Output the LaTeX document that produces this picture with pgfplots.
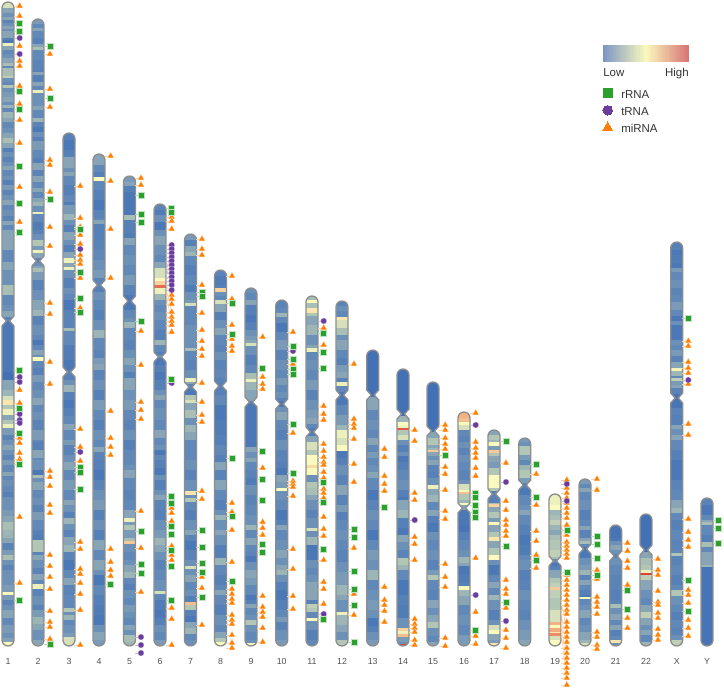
\documentclass[border=0pt]{standalone}
\usepackage{fontspec}
\setmainfont{Liberation Sans}
\usepackage{pgfplots}
\pgfplotsset{compat=1.18}
\definecolor{outl}{RGB}{140,140,140}
\definecolor{lab}{RGB}{80,80,80}
\definecolor{cg}{RGB}{44,160,44}
\definecolor{cp}{RGB}{106,61,154}
\definecolor{co}{RGB}{255,127,0}
\pgfplotsset{
 colormap={ideo}{rgb255(0pt)=(66,113,181); rgb255(2pt)=(85,128,184); rgb255(4pt)=(108,145,184); rgb255(6pt)=(135,165,182); rgb255(8pt)=(178,198,182); rgb255(10pt)=(250,250,190); rgb255(15pt)=(240,150,110); rgb255(20pt)=(214,47,39)},
 colormap={leg}{rgb255=(122,148,195) rgb255=(250,250,190) rgb255=(215,115,115)},
 maskst/.style={draw=none,fill=white},
 outst/.style={draw=outl,line width=1pt,no marks,line join=round},
 bandst/.style={mesh,shader=flat corner,line width=9pt,no marks,line cap=butt},
}
\newcommand\bands[2]{\addplot[bandst] table[x expr=#1,y index=0,meta index=1,row sep=\\,point meta=explicit]{#2};}
% x, top, centromere, bottom, half width of the neck
\newcommand\chrom[5]{%
 \foreach \s in {1,-1}{%
 \pgfmathsetmacro\xa{#1+\s*2.3}\pgfmathsetmacro\xb{#1+\s*4.24}\pgfmathsetmacro\xc{#1+\s*5.54}%
 \pgfmathsetmacro\xd{#1+\s*6}\pgfmathsetmacro\xn{#1+\s*#5}\pgfmathsetmacro\xm{#1+\s*9}%
 \pgfmathsetmacro\ya{#2+.46}\pgfmathsetmacro\yb{#2+1.76}\pgfmathsetmacro\yc{#2+3.7}\pgfmathsetmacro\yd{#2+6}%
 \pgfmathsetmacro\ye{#3-5}\pgfmathsetmacro\yf{#3+5}%
 \pgfmathsetmacro\yg{#4-6}\pgfmathsetmacro\yh{#4-3.7}\pgfmathsetmacro\yi{#4-1.76}\pgfmathsetmacro\yj{#4-.46}%
 \pgfmathsetmacro\yt{#2-2}\pgfmathsetmacro\yu{#4+2}%
 \edef\spath{(#1,#2) (\xa,\ya) (\xb,\yb) (\xc,\yc) (\xd,\yd) (\xd,\ye) (\xn,#3) (\xd,\yf) (\xd,\yg) (\xc,\yh) (\xb,\yi) (\xa,\yj) (#1,#4)}%
 \edef\tmp{\noexpand\addplot[maskst] coordinates {(#1,\yt) \spath\space (#1,\yu) (\xm,\yu) (\xm,\yt)} -- cycle;
 \noexpand\addplot[outst] coordinates {\spath};}%
 \global\let\gtmp\tmp
 \gtmp
 }%
}
\newcommand\tri[2]{\addplot[only marks,mark=triangle*,mark size=2.75pt,mark options={draw=co!30,line width=.2pt,fill=co},
 error bars/.cd,x dir=minus,x fixed=6,error mark=none,error bar style={color=co!35,line width=.45pt}]
 table[x expr=#1,y index=0,row sep=\\]{#2};}
\newcommand\cir[2]{\addplot[only marks,mark=*,mark size=2.25pt,mark options={draw=cp!30,line width=.2pt,fill=cp},
 error bars/.cd,x dir=minus,x fixed=6,error mark=none,error bar style={color=cp!35,line width=.45pt}]
 table[x expr=#1,y index=0,row sep=\\]{#2};}
\newcommand\squ[2]{\addplot[only marks,mark=square*,mark size=2.25pt,mark options={draw=cg!30,line width=.4pt,fill=cg},
 error bars/.cd,x dir=minus,x fixed=6,error mark=none,error bar style={color=cg!35,line width=.45pt}]
 table[x expr=#1,y index=0,row sep=\\]{#2};}
\newcommand\fan[3]{\addplot[color=#1!35,line width=.45pt,no marks] coordinates {#3};}
\newcommand\lab[2]{\node[font=\fontsize{6.6}{8}\selectfont,text=lab,anchor=base] at (axis cs:#1,664) {#2};}
\begin{document}
\begin{tikzpicture}
\useasboundingbox (0,0) rectangle (543pt,517.5pt);
\begin{axis}[at={(0,0)},anchor=south west,scale only axis,width=543pt,height=517.5pt,
 xmin=0,xmax=724,ymin=0,ymax=690,y dir=reverse,hide axis,clip=false,
 colormap name=ideo,point meta min=0,point meta max=1]
% ---------- bands: y, value
\bands{8}{2 .45\\8 .3\\13 .2\\17 .3\\20 .12\\23 .2\\26 .3\\29 .2\\31 .3\\38 .1\\40 .05\\43 .48\\46 .3\\50 .15\\54 .2\\58 .3\\63 .38\\66 .15\\68 .38\\76 .42\\78 .2\\82 .15\\85 .4\\88 .2\\92 .25\\97 .3\\102 .2\\105 .35\\108 .15\\112 .35\\118 .3\\122 .15\\128 .2\\133 .3\\138 .38\\143 .3\\148 .1\\152 .2\\157 .12\\162 .2\\166 .3\\170 .15\\176 .2\\180 .1\\185 .25\\190 .12\\195 .2\\200 .3\\205 .15\\210 .2\\216 .12\\221 .3\\225 .15\\230 .3\\240 .3\\250 .15\\262 .3\\270 .2\\285 .38\\290 .38\\295 .15\\305 .2\\311 .3\\317 .12\\321 .05\\372 0\\380 .3\\390 .35\\396 .45\\400 .55\\405 .4\\409 .48\\415 .3\\420 .4\\424 .48\\428 .25\\435 .12\\440 .2\\445 .3\\450 .2\\455 .12\\460 .25\\465 .15\\472 .3\\476 .15\\480 .2\\486 .15\\492 .1\\497 .2\\505 .2\\510 .25\\516 .3\\522 .38\\530 .35\\538 .3\\543 .12\\550 .25\\555 .38\\560 .2\\565 .12\\570 .2\\578 .2\\585 .25\\592 .5\\595 .25\\600 .12\\605 .2\\610 .3\\618 .15\\625 .25\\633 .2\\638 .28\\642 .5\\646 .5\\}
\bands{38}{19 .25\\24 .15\\28 .3\\31 .15\\38 .1\\44 .3\\47 .38\\50 .15\\60 .12\\70 .1\\72 .3\\75 .1\\82 .3\\86 .15\\90 .48\\93 .2\\100 .2\\106 .3\\110 .15\\118 .35\\122 .12\\127 .05\\132 .2\\137 .1\\141 .25\\150 .15\\158 .1\\163 .3\\170 .12\\176 .3\\182 .15\\188 .3\\192 .15\\198 .3\\202 .35\\206 .2\\212 .48\\214 .15\\222 .08\\230 .12\\234 .2\\240 .4\\246 .25\\250 .48\\253 .3\\258 .12\\263 .2\\266 .3\\268 .38\\272 .25\\280 .12\\290 .2\\300 .3\\310 .35\\316 .12\\325 .2\\335 .15\\340 .05\\345 .15\\350 .3\\355 .2\\357 .5\\361 .15\\368 .1\\375 .25\\382 .15\\390 .2\\398 .3\\405 .15\\412 .2\\420 .12\\430 .25\\440 .15\\442 .1\\450 .3\\458 .15\\460 .2\\470 .05\\475 .38\\478 .2\\482 .3\\490 .15\\498 .2\\505 .12\\512 .25\\520 .15\\530 .1\\535 .08\\540 .4\\545 .4\\552 .12\\555 .3\\560 .2\\568 .12\\574 .3\\580 .15\\584 .48\\589 .12\\596 .2\\605 .12\\610 .25\\617 .35\\624 .3\\630 .2\\640 .3\\646 .25\\}
\bands{69}{133 .1\\140 .05\\150 .1\\157 .3\\162 .3\\168 .2\\172 .3\\176 .15\\185 .1\\195 .15\\202 .08\\205 .25\\214 .35\\220 .2\\225 .1\\232 .3\\240 .2\\245 .1\\252 .3\\258 .48\\263 .3\\267 .48\\270 .2\\278 .1\\288 .2\\294 .15\\300 .05\\310 .12\\318 .12\\328 .38\\331 .15\\345 .08\\360 .05\\370 .12\\374 .1\\380 .2\\385 .35\\392 .1\\400 .05\\408 .1\\416 .15\\424 .3\\430 .15\\440 .25\\445 .12\\455 .2\\462 .3\\470 .15\\480 .25\\490 .15\\500 .3\\505 .2\\512 .1\\518 .35\\524 .2\\530 .12\\537 .3\\545 .35\\552 .12\\560 .05\\570 .15\\578 .3\\585 .12\\595 .15\\608 .4\\612 .2\\615 .35\\620 .15\\625 .2\\633 .25\\637 .45\\646 .45\\}
\bands{99}{154 .3\\160 .3\\165 .15\\172 .1\\177 .5\\181 .15\\190 .1\\200 .05\\210 .12\\218 .15\\220 .3\\224 .1\\232 .1\\240 .12\\250 .15\\260 .2\\270 .25\\278 .12\\287 .1\\292 .2\\300 .15\\310 .1\\320 .2\\330 .35\\338 .15\\350 .12\\358 .25\\364 .3\\370 .12\\380 .2\\390 .1\\400 .25\\410 .15\\420 .1\\430 .2\\440 .15\\447 .3\\452 .12\\460 .1\\470 .05\\480 .12\\490 .2\\500 .25\\510 .1\\520 .2\\530 .1\\540 .3\\550 .15\\560 .3\\570 .2\\575 .05\\585 .15\\595 .1\\605 .08\\615 .05\\625 .2\\632 .3\\640 .25\\646 .2\\}
\bands{129.5}{176 .25\\182 .3\\186 .1\\192 .05\\200 .05\\212 .05\\215 .38\\220 .1\\228 .1\\233 .08\\238 .3\\245 .15\\255 .2\\265 .15\\275 .25\\285 .12\\295 .05\\303 .05\\310 .15\\318 .2\\322 .35\\328 .15\\340 .12\\350 .2\\358 .3\\365 .2\\372 .1\\378 .3\\390 .2\\400 .25\\410 .15\\420 .12\\430 .2\\440 .1\\450 .15\\465 .2\\470 .3\\478 .15\\490 .12\\500 .15\\510 .3\\518 .48\\522 .25\\525 .4\\530 .25\\538 .38\\541 .62\\544 .2\\552 .15\\560 .2\\565 .3\\572 .35\\578 .15\\584 .1\\590 .2\\598 .15\\605 .25\\612 .2\\618 .15\\625 .3\\630 .2\\635 .38\\642 .35\\646 .35\\}
\bands{160}{204 .12\\210 .08\\215 .2\\222 .05\\230 .2\\236 .3\\245 .2\\255 .15\\262 .3\\268 .45\\278 .5\\281 .6\\285 .85\\288 .48\\294 .35\\300 .2\\305 .15\\312 .2\\320 .15\\330 .1\\340 .35\\345 .15\\352 .1\\355 .2\\358 .05\\365 .1\\372 .05\\380 .1\\390 .2\\395 .3\\400 .15\\408 .2\\420 .15\\430 .3\\438 .15\\445 .2\\450 .05\\455 .15\\460 .1\\468 .05\\475 .2\\480 .1\\490 .2\\495 .3\\500 .12\\510 .1\\520 .2\\530 .25\\538 .35\\545 .3\\552 .2\\560 .12\\570 .15\\580 .2\\590 .2\\591 .45\\594 .15\\600 .08\\610 .05\\618 .1\\625 .2\\632 .15\\640 .25\\646 .2\\}
\bands{190.5}{234 .25\\240 .1\\246 .3\\252 .35\\256 .15\\265 .1\\275 .15\\285 .08\\292 .2\\300 .25\\303 .45\\306 .15\\315 .15\\325 .2\\334 .2\\348 .38\\351 .15\\360 .12\\370 .2\\378 .48\\382 .3\\384 .12\\389 .05\\395 .4\\400 .45\\403 .3\\410 .38\\418 .2\\425 .35\\432 .3\\440 .15\\450 .15\\460 .2\\470 .12\\480 .2\\488 .2\\491 .55\\495 .2\\498 .4\\502 .15\\510 .1\\520 .2\\530 .3\\535 .12\\541 .05\\550 .12\\560 .2\\566 .45\\569 .2\\575 .3\\582 .15\\590 .2\\596 .1\\602 .65\\605 .4\\610 .1\\616 .05\\622 .3\\628 .35\\634 .15\\640 .2\\646 .15\\}
\bands{220.5}{270 .12\\276 .08\\285 .1\\288 .6\\292 .2\\296 .15\\300 .45\\304 .3\\312 .1\\320 .2\\328 .3\\335 .15\\345 .12\\352 .2\\360 .12\\370 .15\\378 .12\\383 .1\\388 .1\\395 .15\\405 .05\\420 .08\\435 .1\\445 .15\\455 .1\\462 .3\\470 .12\\480 .3\\490 .15\\500 .1\\510 .2\\515 .35\\520 .2\\530 .3\\535 .2\\545 .1\\558 .35\\565 .15\\575 .1\\585 .15\\590 .3\\595 .15\\605 .1\\615 .2\\625 .15\\632 .3\\638 .4\\642 .5\\646 .5\\}
\bands{251}{288 .2\\293 .15\\300 .3\\305 .1\\315 .05\\322 .1\\330 .2\\336 .25\\340 .3\\343 .45\\346 .2\\355 .1\\365 .15\\373 .38\\379 .48\\382 .35\\390 .3\\398 .3\\401 .1\\404 .05\\415 .05\\440 .05\\447 .3\\452 .2\\458 .3\\462 .15\\470 .12\\478 .08\\485 .2\\495 .12\\505 .15\\515 .2\\525 .35\\530 .15\\538 .3\\545 .15\\552 .12\\556 .05\\562 .2\\570 .3\\578 .25\\585 .15\\595 .05\\600 .1\\604 .3\\608 .15\\615 .2\\620 .4\\625 .2\\632 .15\\640 .2\\643 .5\\646 .5\\}
\bands{281.7}{300 .12\\308 .15\\313 .35\\317 .15\\323 .05\\332 .15\\340 .25\\350 .12\\360 .2\\370 .15\\378 .25\\385 .15\\392 .2\\398 .12\\401 .05\\407 .2\\412 .3\\420 .15\\430 .1\\440 .2\\450 .12\\462 .1\\468 .05\\475 .3\\482 .25\\488 .5\\491 .2\\500 .15\\510 .05\\520 .1\\525 .3\\530 .15\\540 .2\\550 .3\\558 .2\\565 .3\\570 .35\\575 .2\\582 .1\\590 .05\\600 .1\\610 .15\\617 .25\\622 .12\\630 .2\\640 .25\\646 .2\\}
\bands{312}{296 .38\\300 .5\\303 .38\\308 .55\\313 .4\\316 .3\\325 .35\\335 .2\\345 .3\\348 .48\\352 .15\\360 .2\\370 .15\\380 .25\\390 .12\\400 .2\\410 .25\\418 .3\\424 .15\\428 .08\\436 .3\\442 .45\\450 .4\\455 .5\\460 .5\\465 .58\\468 .5\\472 .5\\475 .2\\482 .4\\488 .38\\495 .3\\500 .2\\510 .12\\518 .2\\528 .45\\531 .2\\537 .35\\545 .05\\552 .05\\560 .2\\568 .15\\575 .2\\582 .3\\590 .3\\600 .1\\604 .42\\608 .4\\612 .15\\618 .5\\621 .2\\630 .1\\640 .15\\646 .15\\}
\bands{342}{301 .12\\306 .2\\311 .15\\317 .55\\320 .45\\328 .38\\335 .2\\340 .3\\350 .15\\358 .1\\365 .25\\372 .3\\378 .12\\382 .48\\386 .15\\392 .05\\397 .05\\405 .15\\415 .25\\425 .35\\430 .48\\438 .45\\445 .5\\451 .05\\458 .1\\465 .2\\475 .12\\485 .3\\495 .12\\505 .25\\512 .1\\520 .15\\530 .2\\540 .15\\550 .12\\562 .2\\572 .25\\585 .35\\595 .3\\600 .2\\612 .48\\615 .35\\625 .3\\632 .2\\640 .4\\646 .35\\}
\bands{372.7}{350 0\\393 0\\397 .3\\405 .3\\410 .15\\420 .2\\430 .15\\438 .3\\445 .15\\452 .25\\458 .15\\465 .2\\472 .3\\478 .15\\490 .05\\500 .12\\510 .2\\520 .15\\530 .05\\540 .15\\550 .25\\560 .2\\570 .35\\580 .15\\590 .2\\600 .25\\610 .2\\618 .05\\626 .1\\632 .2\\640 .25\\646 .3\\}
\bands{403}{369 0\\411 0\\416 .35\\422 .5\\426 .48\\428 .9\\430 .4\\435 .45\\440 .2\\445 .1\\452 .2\\456 .05\\462 .1\\470 .15\\480 .2\\490 .1\\497 .05\\500 .3\\510 .35\\518 .1\\528 .05\\535 .3\\542 .2\\550 .12\\558 .4\\565 .35\\570 .15\\580 .05\\595 .1\\605 .08\\618 .2\\628 .6\\631 .48\\634 .65\\637 .25\\642 .2\\644 .95\\646 .95\\}
\bands{433}{382 0\\427 0\\432 .3\\438 .4\\445 .3\\448 .35\\450 .62\\452 .3\\456 .2\\460 .3\\465 .12\\472 .1\\478 .2\\485 .48\\489 .3\\495 .35\\502 .15\\510 .3\\516 .1\\523 .05\\532 .2\\540 .15\\550 .2\\560 .12\\570 .25\\575 .4\\580 .15\\590 .12\\600 .3\\608 .2\\615 .3\\622 .4\\628 .2\\636 .15\\642 .3\\646 .3\\}
\bands{464}{412 .68\\418 .65\\422 .5\\425 .45\\430 .15\\436 .12\\442 .2\\448 .12\\455 .2\\462 .15\\470 .12\\480 .2\\484 .45\\490 .5\\492 .65\\494 .4\\500 .35\\503 .5\\505 .3\\510 .05\\525 .02\\532 .1\\540 .15\\550 .2\\557 .35\\563 .3\\566 .05\\575 .08\\583 .1\\586 .5\\590 .35\\596 .3\\605 .15\\615 .2\\625 .15\\635 .25\\646 .2\\}
\bands{494}{430 .3\\435 .4\\440 .35\\442 .5\\446 .25\\450 .62\\453 .4\\456 .3\\462 .25\\468 .4\\475 .5\\482 .5\\488 .4\\491 .1\\497 .1\\503 .38\\504 .6\\507 .3\\512 .4\\518 .25\\522 .5\\525 .3\\532 .4\\537 .55\\541 .3\\548 .4\\555 .5\\560 .2\\565 .05\\575 .15\\582 .3\\588 .15\\595 .35\\600 .2\\610 .1\\620 .2\\625 .45\\630 .5\\634 .3\\640 .25\\643 .55\\646 .5\\}
\bands{524.7}{438 .25\\442 .2\\446 .4\\450 .4\\455 .25\\460 .15\\465 .35\\470 .4\\478 .25\\483 .1\\488 .05\\495 .15\\505 .2\\510 .3\\515 .15\\525 .1\\535 .05\\545 .08\\555 .15\\560 .2\\570 .1\\580 .12\\590 .2\\600 .15\\610 .12\\620 .2\\630 .25\\640 .3\\646 .25\\}
\bands{555}{494 .48\\505 .5\\510 .35\\515 .38\\520 .42\\525 .35\\530 .3\\535 .38\\540 .4\\545 .4\\550 .42\\557 .38\\559 .15\\563 .05\\566 .1\\570 .3\\578 .4\\583 .42\\587 .62\\590 .42\\598 .4\\610 .45\\620 .45\\622 .68\\625 .5\\628 .7\\632 .55\\633 .78\\636 .45\\640 .5\\646 .52\\}
\bands{585}{479 .25\\484 .15\\488 .3\\492 .15\\500 .2\\510 .1\\520 .15\\526 .3\\530 .12\\538 .3\\541 .38\\544 .15\\547 .05\\552 .05\\558 .2\\565 .25\\570 .35\\575 .12\\580 .3\\585 .15\\590 .1\\595 .05\\597 .5\\599 .15\\605 .2\\610 .3\\618 .15\\625 .2\\632 .3\\640 .35\\643 .45\\646 .5\\}
\bands{615.7}{525 .02\\538 .05\\541 .2\\545 .3\\550 .2\\554 .1\\558 .2\\565 .15\\575 .12\\590 .1\\600 .12\\604 .38\\608 .2\\614 .3\\620 .15\\625 .3\\630 .1\\636 .15\\640 .55\\643 .2\\646 .2\\}
\bands{646}{514 0\\548 0\\552 .3\\558 .38\\565 .4\\570 .48\\573 .95\\575 .42\\580 .3\\590 .2\\598 .15\\605 .3\\612 .42\\618 .3\\625 .2\\630 .3\\635 .15\\642 .35\\646 .3\\}
\bands{676.7}{242 .1\\250 .05\\255 .08\\263 .05\\268 .25\\272 .15\\280 .2\\288 .12\\295 .15\\302 .25\\310 .15\\316 .05\\321 .2\\325 .05\\335 .05\\340 .2\\345 .15\\350 .25\\356 .12\\362 .3\\368 .52\\371 .35\\376 .15\\378 .42\\381 .25\\385 .3\\388 .12\\394 .03\\400 .03\\408 .12\\415 .1\\425 .3\\429 .2\\435 .3\\440 .15\\450 .1\\460 .05\\470 .05\\480 .12\\490 .15\\500 .3\\508 .35\\513 .15\\520 .1\\530 .15\\540 .12\\550 .15\\553 .4\\556 .12\\565 .15\\575 .1\\585 .15\\590 .4\\596 .2\\605 .15\\612 .1\\620 .15\\628 .12\\635 .2\\640 .42\\646 .45\\}
\bands{707}{498 .12\\505 .05\\515 .15\\520 .3\\522 .38\\525 .15\\535 .1\\542 .38\\547 .15\\552 .3\\560 .3\\565 .35\\567 .02\\646 .02\\}
% ---------- outlines
\chrom{8}{2}{321}{646}{1.5}
\chrom{38}{19}{261}{646}{1.5}
\chrom{69}{133}{372}{646}{1.5}
\chrom{99}{154}{285}{646}{1.5}
\chrom{129.5}{176}{301}{646}{1.5}
\chrom{160}{204}{357}{646}{1.5}
\chrom{190.5}{234}{387}{646}{1.5}
\chrom{220.5}{270}{386}{646}{1.5}
\chrom{251}{288}{402}{646}{1.5}
\chrom{281.7}{300}{404}{646}{1.5}
\chrom{312}{296}{432}{646}{1.5}
\chrom{342}{301}{395}{646}{1.5}
\chrom{372.7}{350}{395}{646}{1.5}
\chrom{403}{369}{414}{646}{1.5}
\chrom{433}{382}{431}{646}{1.5}
\chrom{464}{412}{508}{646}{1.5}
\chrom{494}{430}{494}{646}{1.5}
\chrom{524.7}{438}{485}{646}{1.5}
\chrom{555}{494}{561}{646}{1.5}
\chrom{585}{479}{549}{646}{1.5}
\chrom{615.7}{525}{556}{646}{1.5}
\chrom{646}{514}{550}{646}{1.5}
\chrom{676.7}{242}{398}{646}{1.5}
\chrom{707}{498}{560}{646}{6}
% ---------- slanted connectors
\fan{cp}{}{(166,272) (171.7,249)}
\fan{cp}{}{(166,276) (171.7,261)}
\fan{cp}{}{(166,280) (171.7,273)}
\fan{co}{}{(166,284) (171.7,299)}
\fan{co}{}{(166,288) (171.7,312)}
\fan{co}{}{(166,292) (171.7,325)}
\fan{co}{}{(561,520) (566.8,558)}
\fan{co}{}{(561,600) (566.8,632)}
\fan{co}{}{(561,610) (566.8,653)}
\fan{co}{}{(561,620) (566.8,668)}
\fan{co}{}{(561,628) (566.8,685)}
% ---------- miRNA
\tri{19.7}{6\\16\\46\\61\\66\\86\\104\\120\\143\\187\\222\\390\\403\\438\\443\\453\\459\\462\\517\\583\\}
\tri{50}{54\\89\\107\\160\\165\\192\\227\\246\\303\\314\\362\\384\\471\\477\\486\\505\\513\\555\\566\\577\\589\\611\\622\\627\\639\\}
\tri{80.3}{186\\218\\227\\235\\244\\255\\260\\264\\278\\308\\429\\447\\461\\542\\549\\569\\574\\583\\594\\610\\645\\}
\tri{110.7}{156\\181\\229\\278\\411\\438\\447\\455\\549\\562\\570\\576\\}
\tri{141}{178\\185\\331\\365\\402\\410\\419\\511\\548\\592\\}
\tri{171.7}{217\\221\\229\\295\\299\\304\\312\\317\\321\\325\\332\\508\\513\\521\\546\\555\\560\\608\\619\\645\\}
\tri{202}{239\\249\\255\\285\\313\\330\\341\\349\\356\\383\\402\\415\\422\\491\\499\\577\\588\\625\\}
\tri{232}{276\\299\\325\\339\\346\\351\\503\\512\\530\\562\\589\\594\\599\\603\\615\\620\\624\\635\\643\\648\\}
\tri{262.7}{337\\377\\384\\389\\468\\522\\528\\535\\596\\607\\612\\617\\628\\642\\}
\tri{293}{332\\364\\433\\481\\484\\487\\496\\549\\569\\596\\609\\}
\tri{323.7}{328\\345\\406\\414\\420\\444\\451\\457\\462\\465\\472\\478\\489\\493\\498\\517\\529\\536\\560\\582\\589\\604\\}
\tri{354}{364\\419\\424\\428\\439\\464\\482\\548\\594\\615\\}
\tri{384.5}{449\\457\\476\\484\\491\\587\\600\\605\\611\\622\\}
\tri{414.7}{430\\441\\493\\500\\537\\544\\560\\619\\624\\628\\632\\640\\645\\}
\tri{445.2}{425\\430\\438\\444\\449\\467\\474\\490\\511\\519\\564\\577\\587\\638\\646\\}
\tri{475.7}{413\\442\\448\\453\\458\\468\\476\\558\\612\\636\\644\\}
\tri{506}{463\\501\\510\\520\\525\\531\\536\\580\\589\\594\\608\\630\\638\\648\\}
\tri{536.3}{474\\505\\531\\541\\555\\568\\}
\tri{566.8}{480\\488\\493\\498\\503\\508\\513\\518\\525\\535\\542\\546\\550\\554\\558\\575\\580\\585\\590\\595\\600\\605\\610\\614\\622\\627\\632\\637\\642\\648\\653\\658\\663\\668\\673\\678\\685\\}
\tri{597}{479\\490\\570\\579\\597\\602\\607\\614\\632\\637\\645\\649\\}
\tri{627.5}{543\\551\\561\\568\\585\\618\\628\\}
\tri{658}{559\\570\\575\\591\\602\\605\\613\\618\\629\\635\\640\\}
\tri{688.3}{341\\346\\362\\368\\373\\384\\424\\435\\519\\532\\540\\547\\590\\595\\603\\620\\628\\636\\}
% ---------- tRNA
\cir{19.7}{38\\54\\377\\382\\414\\420\\423\\}
\cir{80.3}{249\\452\\}
\cir{141}{637\\645\\653\\}
\cir{171.7}{245\\249\\253\\257\\261\\265\\269\\273\\277\\281\\285\\290\\383\\}
\cir{293}{351\\}
\cir{323.7}{321\\614\\}
\cir{414.7}{520\\}
\cir{475.7}{425\\595\\}
\cir{506}{482\\621\\}
\cir{566.8}{484\\501\\}
\cir{688.3}{380\\}
% ---------- rRNA
\squ{19.7}{23\\31\\91\\109\\166\\203\\232\\370\\408\\433\\464\\600\\}
\squ{50}{46\\98\\199\\644\\}
\squ{80.3}{229\\272\\298\\312\\467\\472\\489\\}
\squ{110.7}{584\\}
\squ{141}{195\\214\\222\\321\\531\\564\\573\\}
\squ{171.7}{208\\212\\379\\496\\503\\526\\534\\550\\566\\600\\}
\squ{202}{292\\296\\530\\547\\563\\572\\597\\}
\squ{232}{303\\334\\458\\516\\581\\}
\squ{262.7}{368\\451\\479\\500\\544\\552\\}
\squ{293}{346\\359\\369\\374\\424\\473\\}
\squ{323.7}{333\\352\\368\\482\\502\\549\\619\\}
\squ{354}{529\\537\\571\\589\\605\\642\\}
\squ{384.5}{507\\}
\squ{445.2}{455\\}
\squ{475.7}{493\\497\\505\\512\\517\\630\\}
\squ{506}{441\\546\\602\\}
\squ{536.3}{464\\497\\560\\}
\squ{566.8}{530\\572\\}
\squ{597}{536\\544\\558\\575\\}
\squ{627.5}{590\\609\\}
\squ{688.3}{318\\580\\611\\}
\squ{718.7}{520\\528\\543\\}
% ---------- labels
\lab{8}{1}\lab{38}{2}\lab{69}{3}\lab{99}{4}\lab{129.5}{5}\lab{160}{6}\lab{190.5}{7}\lab{220.5}{8}
\lab{251}{9}\lab{281.7}{10}\lab{312}{11}\lab{342}{12}\lab{372.7}{13}\lab{403}{14}\lab{433}{15}\lab{464}{16}
\lab{494}{17}\lab{524.7}{18}\lab{555}{19}\lab{585}{20}\lab{615.7}{21}\lab{646}{22}\lab{676.7}{X}\lab{707}{Y}
% ---------- legend
\addplot[mesh,colormap name=leg,line width=12.8pt,no marks,line cap=butt] table[y index=1,meta index=2,point meta=explicit,row sep=\\]{603 53.5 0\\605.15 53.5 .025\\607.3 53.5 .05\\609.45 53.5 .075\\611.6 53.5 .1\\613.75 53.5 .125\\615.9 53.5 .15\\618.05 53.5 .175\\620.2 53.5 .2\\622.35 53.5 .225\\624.5 53.5 .25\\626.65 53.5 .275\\628.8 53.5 .3\\630.95 53.5 .325\\633.1 53.5 .35\\635.25 53.5 .375\\637.4 53.5 .4\\639.55 53.5 .425\\641.7 53.5 .45\\643.85 53.5 .475\\646 53.5 .5\\648.15 53.5 .525\\650.3 53.5 .55\\652.45 53.5 .575\\654.6 53.5 .6\\656.75 53.5 .625\\658.9 53.5 .65\\661.05 53.5 .675\\663.2 53.5 .7\\665.35 53.5 .725\\667.5 53.5 .75\\669.65 53.5 .775\\671.8 53.5 .8\\673.95 53.5 .825\\676.1 53.5 .85\\678.25 53.5 .875\\680.4 53.5 .9\\682.55 53.5 .925\\684.7 53.5 .95\\686.85 53.5 .975\\689 53.5 1\\};
\node[font=\fontsize{8.6}{10}\selectfont,text=black!80,anchor=base west,inner sep=0pt] at (axis cs:603,76) {Low};
\node[font=\fontsize{8.6}{10}\selectfont,text=black!80,anchor=base east,inner sep=0pt] at (axis cs:689,76) {High};
\addplot[only marks,mark=square*,mark size=3.5pt,mark options={draw=cg,line width=0pt,fill=cg}] coordinates {(607.7,93.3)};
\addplot[only marks,mark=*,mark size=3.6pt,mark options={draw=cp,line width=0pt,fill=cp}] coordinates {(607.7,110.3)};
\addplot[only marks,mark=triangle*,mark size=4.2pt,mark options={draw=co,line width=0pt,fill=co}] coordinates {(607.7,127.5)};
\node[font=\fontsize{8.6}{10}\selectfont,text=black!80,anchor=base west,inner sep=0pt] at (axis cs:621,98) {rRNA};
\node[font=\fontsize{8.6}{10}\selectfont,text=black!80,anchor=base west,inner sep=0pt] at (axis cs:621,115) {tRNA};
\node[font=\fontsize{8.6}{10}\selectfont,text=black!80,anchor=base west,inner sep=0pt] at (axis cs:621,132) {miRNA};
\end{axis}
\end{tikzpicture}
\end{document}
